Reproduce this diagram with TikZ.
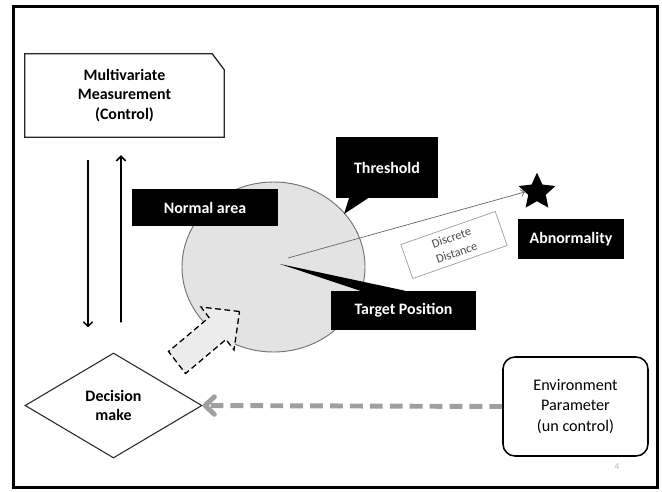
\documentclass[tikz,border=0pt]{standalone}
\usepackage{fontspec}
\setmainfont{Carlito}
\usetikzlibrary{positioning,calc,arrows.meta,shapes.geometric}

\begin{document}
\begin{tikzpicture}[
        x=0.03cm, y=-0.03cm,
        >=Stealth,
        label_box/.style={
            rectangle,
            fill=black,
            text=white,
            inner sep=0pt,
            align=center,
            font=\bfseries\fontsize{13.6}{16.6}\selectfont
        },
        measure_box/.style={
            rectangle,
            inner sep=0pt,
            minimum width=5.97cm,
            minimum height=2.49cm,
            align=center,
            font=\bfseries\fontsize{13.6}{16.6}\selectfont
        },
        decision_node/.style={
            diamond,
            draw=black!85,
            line width=0.9pt,
            inner sep=0pt,
            minimum width=5.31cm,
            minimum height=3.15cm,
            align=center,
            font=\bfseries\fontsize{13.6}{16.2}\selectfont
        },
        env_box/.style={
            rectangle,
            draw=black,
            line width=1.3pt,
            rounded corners=0.36cm,
            minimum width=4.35cm,
            minimum height=2.97cm,
            align=center,
            font=\fontsize{13.8}{17.4}\selectfont
        },
        distance_box/.style={
            rectangle,
            draw=gray!75,
            line width=0.6pt,
            fill=white,
            text=black!70,
            minimum width=3cm,
            minimum height=1.08cm,
            inner sep=0pt,
            align=center,
            font=\fontsize{10.5}{13.5}\selectfont,
            rotate=19.3
        },
        normal_zone/.style={ellipse, draw=black!55, line width=0.8pt, fill=gray!22, minimum width=5.49cm, minimum height=5.1cm},
        abnormal_star/.style={star, star points=5, star point ratio=2.1, fill=black, inner sep=0pt, minimum size=1.16cm},
        flow_arrow/.style={-{Straight Barb[length=4pt,width=8pt]}, line width=1.3pt},
        env_arrow/.style={-{Straight Barb[length=8pt,width=15pt,round]}, line width=4.2pt, gray!75, dash pattern=on 11pt off 6pt},
        distance_arrow/.style={-{Straight Barb[length=3pt,width=6pt]}, line width=0.6pt, black!60},
        push_arrow/.style={draw, line width=1.1pt, dash pattern=on 5pt off 3pt, fill=gray!15}
    ]

    \useasboundingbox (0,0) rectangle (662,491);

    % Slide frame
    \draw[line width=0.09cm] (13,6) rectangle (657,487);

    % =================================================
    % CONTROL LOOP (Measurement <-> Decision)
    % =================================================

    \node[measure_box] (Measure) at (124.5, 95.5) {Multivariate\\Measurement\\(Control)};
    \draw[line width=1.1pt, black!85] (Measure.north west) -- ([xshift=-0.36cm]Measure.north east) -- ([yshift=-0.48cm]Measure.north east) -- (Measure.south east) -- (Measure.south west) -- cycle;

    \node[decision_node] (Decide) at (113.5, 405.5) {Decision\\make};

    \draw[flow_arrow] ([xshift=-1.095cm, yshift=-0.69cm]Measure.south) -- ([xshift=-0.765cm, yshift=0.75cm]Decide.north);
    \draw[flow_arrow] ([xshift=0.225cm, yshift=0.9cm]Decide.north) -- ([xshift=-0.105cm, yshift=-0.54cm]Measure.south);

    % =================================================
    % NORMAL AREA (Threshold circle)
    % =================================================

    \node[normal_zone] (Zone) at (273.5, 267) {};
    \coordinate (Centre) at (288, 258);
    \coordinate (TargetTip) at (280, 264);
    \coordinate (ThresholdTip) at (344, 214);

    % Callouts
    \node[label_box, minimum width=4.38cm, minimum height=1.11cm] (NormalLbl) at (205, 207.5) {Normal area};
    \node[label_box, minimum width=3.06cm, minimum height=1.83cm] (ThresholdLbl) at (387, 167.5) {Threshold};
    \node[label_box, minimum width=4.35cm, minimum height=1.17cm] (TargetLbl) at (403.5, 310.5) {Target Position};
    \node[label_box, minimum width=3.18cm, minimum height=1.2cm] (AbnormalLbl) at (571, 239) {Abnormality};

    \fill[black] ([xshift=-1.14cm]ThresholdLbl.south) -- ([xshift=-0.57cm]ThresholdLbl.south) -- (ThresholdTip) -- cycle;
    \fill[black] ([xshift=-1.3cm]TargetLbl.north) -- ([xshift=0.05cm]TargetLbl.north) -- (TargetTip) -- cycle;

    % Distance to the abnormal point
    \node[abnormal_star] (Star) at (537, 192) {};
    \draw[distance_arrow] (Centre) -- (Star.west);
    \node[distance_box] (DistLbl) at (454, 245) {Discrete\\Distance};

    % Input pushed into the normal area
    \draw[push_arrow] (239.5,311.5) -- (201,307) -- (209,317.5) -- (168.5,351.5) -- (185.5,373.5) -- (226,339.5) -- (234,350) -- cycle;

    % =================================================
    % ENVIRONMENT (uncontrolled input)
    % =================================================

    \node[env_box] (Env) at (575.5, 406.5) {Environment\\Parameter\\(un control)};
    \draw[env_arrow] (Env.west) -- (Decide.east);

    \node[text=gray!55, font=\fontsize{8}{9}\selectfont] (PageNum) at (617, 466) {4};

\end{tikzpicture}
\end{document}
